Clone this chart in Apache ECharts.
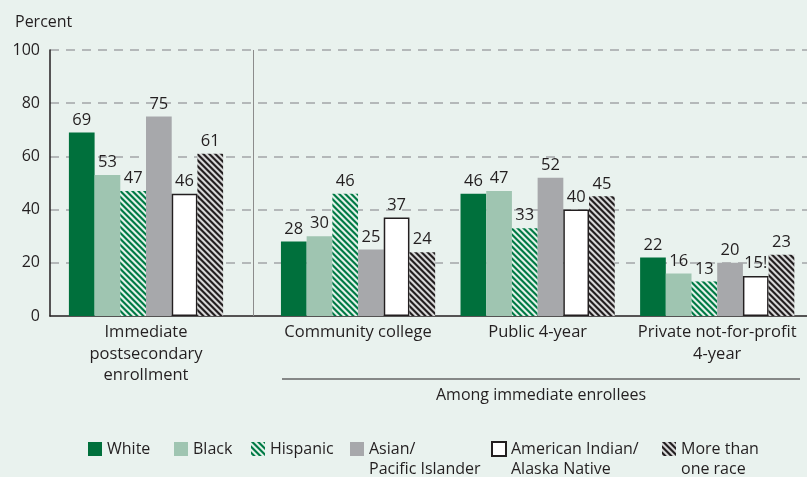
<!DOCTYPE html>
<html><head><meta charset="utf-8">
<script src="https://cdn.jsdelivr.net/npm/echarts@6/dist/echarts.min.js"></script>
<style>html,body{margin:0;padding:0;background:#e9f2ee}#c{width:807px;height:477px}</style>
</head><body><div id="c"></div>
<script>
// ---- data ----
const leftCategory = ['Immediate\npostsecondary\nenrollment'];
const rightCategories = ['Community college', 'Public 4-year', 'Private not-for-profit\n4-year'];
const seriesNames = ['White', 'Black', 'Hispanic', 'Asian/\nPacific Islander', 'American Indian/\nAlaska Native', 'More than\none race'];
const whiteVals = [69, 28, 46, 22];
const blackVals = [53, 30, 47, 16];
const hispanicVals = [47, 46, 33, 13];
const asianVals = [75, 25, 52, 20];
const amIndVals = [46, 37, 40, 15];
const multiVals = [61, 24, 45, 23];
// "!" = interpret data with caution
const amIndCaution = [false, false, false, true];
const yTicks = [0, 20, 40, 60, 80, 100];
const groupTitle = 'Among immediate enrollees';
const yTitle = 'Percent';

// ---- styling ----
const FONT = 'Open Sans';
const TXT = '#231f20';

function stripes(fg, bg) {
  const s = 6, ss = 4;
  const c = document.createElement('canvas');
  c.width = s; c.height = s;
  const ctx = c.getContext('2d');
  const img = ctx.createImageData(s, s);
  const parse = h => [parseInt(h.slice(1,3),16), parseInt(h.slice(3,5),16), parseInt(h.slice(5,7),16)];
  const f = parse(fg), b = parse(bg);
  for (let y = 0; y < s; y++) for (let x = 0; x < s; x++) {
    let cov = 0;
    for (let j = 0; j < ss; j++) for (let i = 0; i < ss; i++) {
      const px = x + (i + 0.5) / ss, py = y + (j + 0.5) / ss;
      const d = ((px - py) % s + s) % s;
      if (d < s / 2) cov++;
    }
    const a = cov / (ss * ss);
    const k = (y * s + x) * 4;
    for (let m = 0; m < 3; m++) img.data[k + m] = Math.round(f[m] * a + b[m] * (1 - a));
    img.data[k + 3] = 255;
  }
  ctx.putImageData(img, 0, 0);
  return { image: c, repeat: 'repeat' };
}

const styles = [
  { color: '#00703c' },
  { color: '#9fc5b1' },
  { color: stripes('#007a45', '#e2f0e8') },
  { color: '#a7a8ab' },
  { color: '#ffffff', borderColor: TXT, borderWidth: 1.5 },
  { color: stripes('#231f20', '#d6d6d6') }
];
const allVals = [whiteVals, blackVals, hispanicVals, asianVals, amIndVals, multiVals];

const series = [];
[1, 2].forEach(gi => {
  allVals.forEach((vals, si) => {
    const data = gi === 1 ? vals.slice(0, 1) : vals.slice(1);
    series.push({
      type: 'bar',
      name: seriesNames[si],
      xAxisIndex: gi, yAxisIndex: gi,
      data: data,
      barWidth: 25.7,
      barGap: '0%',
      itemStyle: styles[si],
      emphasis: { disabled: true },
      label: {
        show: true, position: 'top', distance: 4,
        fontFamily: FONT, fontSize: 16.5, color: TXT,
        formatter: si === 4
          ? (p => p.value + (amIndCaution[gi === 1 ? p.dataIndex : p.dataIndex + 1] ? '!' : ''))
          : '{c}'
      }
    });
  });
});

const legendLefts = [88, 174, 251, 350, 491, 662];
const legends = seriesNames.map((n, i) => {
  const multi = n.indexOf('\n') >= 0;
  return {
    data: [n],
    left: legendLefts[i],
    top: multi ? 419 : 439,
    padding: 0,
    itemWidth: 14, itemHeight: 14,
    icon: 'rect',
    selectedMode: false,
    formatter: multi ? (nm => ' \n' + nm) : (nm => nm),
    textStyle: { fontFamily: FONT, fontSize: 16, color: TXT, lineHeight: 20 }
  };
});

const grids = [
  { left: 50, right: 0, top: 50, bottom: 161 },
  { left: 50, width: 192, top: 50, bottom: 161 },
  { left: 268.25, width: 544.5, top: 50, bottom: 161 }
];

const catLabel = { fontFamily: FONT, fontSize: 16.5, color: TXT, lineHeight: 21.5, margin: 6, interval: 0 };

const option = {
  backgroundColor: '#e9f2ee',
  animation: false,
  title: { text: yTitle, left: 10, top: 9, textStyle: { fontFamily: FONT, fontSize: 16, fontWeight: 'normal', color: TXT } },
  legend: legends,
  grid: grids,
  xAxis: [
    { gridIndex: 0, type: 'category', data: [''], axisLine: { lineStyle: { color: TXT, width: 1.5 } }, axisTick: { show: false }, axisLabel: { show: false } },
    { gridIndex: 1, type: 'category', data: leftCategory, axisLine: { show: false }, axisTick: { show: false }, axisLabel: catLabel },
    { gridIndex: 2, type: 'category', data: rightCategories, axisLine: { show: false }, axisTick: { show: false }, axisLabel: catLabel }
  ],
  yAxis: [
    { gridIndex: 0, type: 'value', min: yTicks[0], max: yTicks[yTicks.length - 1], interval: yTicks[1] - yTicks[0],
      axisLine: { show: true, lineStyle: { color: TXT, width: 1.5 } }, axisTick: { show: false },
      axisLabel: { fontFamily: FONT, fontSize: 16, color: TXT, margin: 10 },
      splitLine: { show: true, showMinLine: false, lineStyle: { color: '#a3a5a8', width: 1.5, type: [9, 7] } } },
    { gridIndex: 1, type: 'value', min: 0, max: 100, show: false, splitLine: { show: false } },
    { gridIndex: 2, type: 'value', min: 0, max: 100, show: false, splitLine: { show: false } }
  ],
  graphic: [
    { type: 'line', shape: { x1: 253.5, y1: 50, x2: 253.5, y2: 316 }, style: { stroke: '#8c8c8c', lineWidth: 1 }, z: 1 },
    { type: 'line', shape: { x1: 282, y1: 379, x2: 800, y2: 379 }, style: { stroke: TXT, lineWidth: 1.2 } },
    { type: 'text', x: 541, y: 395, style: { text: groupTitle, fontFamily: FONT, fontSize: 16, fill: TXT, align: 'center', verticalAlign: 'middle' } }
  ],
  series: series
};

const chart = echarts.init(document.getElementById('c'), null, { renderer: 'canvas' });
chart.setOption(option);
</script>
</body></html>
